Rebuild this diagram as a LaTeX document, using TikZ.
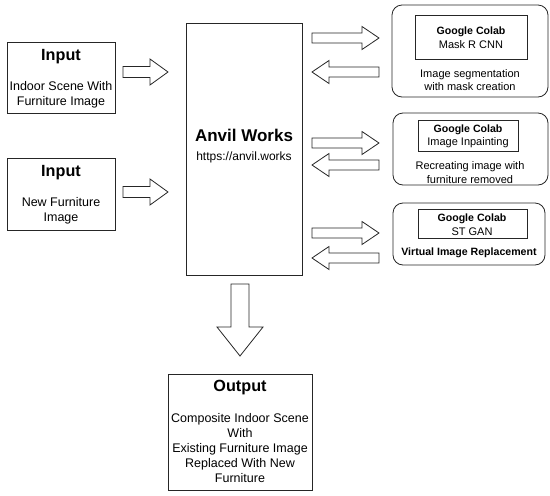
\documentclass[tikz,border=0pt]{standalone}
\usepackage{fontspec}
\setmainfont{Liberation Sans}
\begin{document}
\begin{tikzpicture}[x=1pt,y=-1pt,
  box/.style={draw=black!85,line width=0.8pt,inner sep=0pt},
  rbox/.style={box,rounded corners=10pt},
  blk/.style={draw=black!85,line width=0.8pt,fill=white,line join=miter},
  ttl/.style={font=\bfseries\fontsize{16.2}{18}\selectfont,inner sep=0pt},
  body/.style={font=\fontsize{12.5}{15}\selectfont,align=center,inner sep=0pt},
  gc/.style={font=\bfseries\fontsize{10.6}{13}\selectfont,inner sep=0pt},
  gs/.style={font=\fontsize{11}{13.5}\selectfont,align=center,inner sep=0pt}]
\useasboundingbox (0,0) rectangle (550,496);
% input boxes
\draw[box] (7,42) rectangle (115,113);
\node[ttl] (in1t) at (61,57) {Input};
\node[body] (in1b) at (61,95) {Indoor Scene With\\Furniture Image};
\draw[box] (7,158) rectangle (115,230);
\node[ttl] (in2t) at (61,173) {Input};
\node[body] (in2b) at (61,211) {New Furniture\\Image};
% anvil
\draw[box] (186,23) rectangle (302,275);
\node[font=\bfseries\fontsize{17}{19}\selectfont,inner sep=0pt] (anv) at (244,135) {Anvil Works};
\node[font=\fontsize{12}{14}\selectfont,inner sep=0pt] (url) at (244,157) {https://anvil.works};
% output
\draw[box] (168,374) rectangle (312,490);
\node[ttl] (outt) at (240,388) {Output};
\node[body] (outb) at (240,448) {Composite Indoor Scene\\With\\Existing Furniture Image\\Replaced With New\\Furniture};
% input arrows
\foreach \c in {72,192}{
  \draw[blk] (123,\c-5.5) -- (150,\c-5.5) -- (150,\c-13) -- (168,\c) -- (150,\c+13) -- (150,\c+5.5) -- (123,\c+5.5) -- cycle;
}
% down arrow
\draw[blk] (231,284) -- (231,327) -- (217,327) -- (240,356) -- (263,327) -- (249,327) -- (249,284) -- cycle;
% right-side arrows
\foreach \r/\l in {38/72,143/165,233/258}{
  \draw[blk] (312,\r-5) -- (362,\r-5) -- (362,\r-11.5) -- (379,\r) -- (362,\r+11.5) -- (362,\r+5) -- (312,\r+5) -- cycle;
  \draw[blk] (379,\l-5) -- (329,\l-5) -- (329,\l-11.5) -- (312,\l) -- (329,\l+11.5) -- (329,\l+5) -- (379,\l+5) -- cycle;
}
% group 1
\draw[rbox] (392,5) rectangle (548,97);
\draw[box] (415,15) rectangle (527,59);
\node[gc] (g1a) at (471,32) {Google Colab};
\node[gs] (g1b) at (471,45) {Mask R CNN};
\node[gs] (g1c) at (470,80) {Image segmentation\\with mask creation};
% group 2
\draw[rbox] (393,113) rectangle (548,185);
\draw[box] (418,120) rectangle (518,151);
\node[gc] (g2a) at (468,130) {Google Colab};
\node[gs] (g2b) at (468,143) {Image Inpainting};
\node[gs] (g2c) at (470,172.5) {Recreating image with\\furniture removed};
% group 3
\draw[rbox] (393,203) rectangle (545,265);
\draw[box] (418,209) rectangle (527,238);
\node[gc] (g3a) at (472,219) {Google Colab};
\node[gs] (g3b) at (472,232) {ST GAN};
\node[gc] (g3c) at (469,253) {Virtual Image Replacement};
\end{tikzpicture}
\end{document}
